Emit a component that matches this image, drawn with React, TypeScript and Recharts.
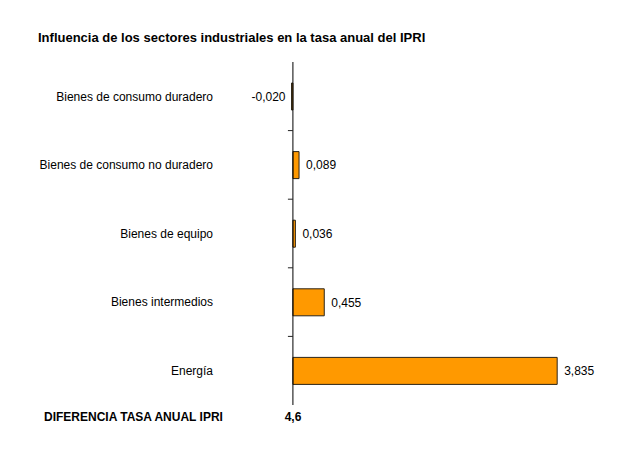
import { BarChart, Bar, XAxis, YAxis, ReferenceLine, LabelList } from 'recharts';

const categories = [
  'Bienes de consumo duradero',
  'Bienes de consumo no duradero',
  'Bienes de equipo',
  'Bienes intermedios',
  'Energía',
];
const values = [-0.02, 0.089, 0.036, 0.455, 3.835];

const title = 'Influencia de los sectores industriales en la tasa anual del IPRI';
const totalLabel = 'DIFERENCIA TASA ANUAL IPRI';
const totalValue = 4.6;

const FONT = '"Liberation Sans", Arial, sans-serif';

const CHART_W = 614;
const CHART_H = 430;
const MARGIN = { top: 54, right: 19, bottom: 33, left: 0 };
const YAXIS_W = 216;
const TICK_MARGIN = 5;
const X_DOMAIN: [number, number] = [-1, 4.5];

// where the zero line sits, relative to the category label anchor
const plotW = CHART_W - MARGIN.left - MARGIN.right - YAXIS_W;
const zeroOffset = ((0 - X_DOMAIN[0]) / (X_DOMAIN[1] - X_DOMAIN[0])) * plotW;
const labelToZero = 6 + TICK_MARGIN + zeroOffset;

const data = categories.map((name, i) => ({ name, value: values[i] }));

const fmt = (v: number, digits: number) => v.toFixed(digits).replace('.', ',');

const CategoryTick = (props: any) => {
  const { x, y, payload } = props;
  const zx = x + labelToZero;
  const top = y - payload.offset;
  return (
    <g>
      <text x={x} y={y} dy="0.35em" textAnchor="end" fontSize={12} fontFamily={FONT} fill="#000">
        {payload.value}
      </text>
      {payload.index > 0 && (
        <line x1={zx - 5} x2={zx} y1={top} y2={top} stroke="#222" strokeWidth={1} />
      )}
    </g>
  );
};

const ValueLabel = (props: any) => {
  const { x, width, y, height, value } = props;
  const left = Math.min(x, x + width);
  const right = Math.max(x, x + width);
  const neg = value < 0;
  return (
    <text
      x={neg ? left - 6 : right + 7}
      y={y + height / 2}
      dy="0.35em"
      textAnchor={neg ? 'end' : 'start'}
      fontSize={12}
      fontFamily={FONT}
      fill="#000"
    >
      {fmt(value, 3)}
    </text>
  );
};

export default function App() {
  return (
    <div style={{ position: 'relative', width: 614, height: 438, background: '#fff', fontFamily: FONT }}>
      <div
        style={{
          position: 'absolute',
          left: 30,
          top: 22,
          fontSize: 13,
          fontWeight: 'bold',
          color: '#000',
          whiteSpace: 'nowrap',
        }}
      >
        {title}
      </div>
      <BarChart layout="vertical" width={CHART_W} height={CHART_H} data={data} margin={MARGIN}>
        <XAxis type="number" hide domain={X_DOMAIN} />
        <YAxis
          type="category"
          dataKey="name"
          width={YAXIS_W}
          axisLine={false}
          tickLine={false}
          tickMargin={TICK_MARGIN}
          tick={CategoryTick}
        />
        <Bar dataKey="value" fill="#FF9900" stroke="#2b2418" strokeWidth={1} barSize={27} isAnimationActive={false}>
          <LabelList dataKey="value" content={ValueLabel} />
        </Bar>
        <ReferenceLine x={0} stroke="#000" strokeWidth={1} />
      </BarChart>
      <div
        style={{
          position: 'absolute',
          left: 36,
          top: 402,
          fontSize: 12,
          fontWeight: 'bold',
          color: '#000',
          whiteSpace: 'nowrap',
        }}
      >
        {totalLabel}
      </div>
      <div
        style={{
          position: 'absolute',
          left: 265,
          width: 40,
          top: 402,
          fontSize: 12,
          fontWeight: 'bold',
          color: '#000',
          textAlign: 'center',
        }}
      >
        {fmt(totalValue, 1)}
      </div>
    </div>
  );
}
